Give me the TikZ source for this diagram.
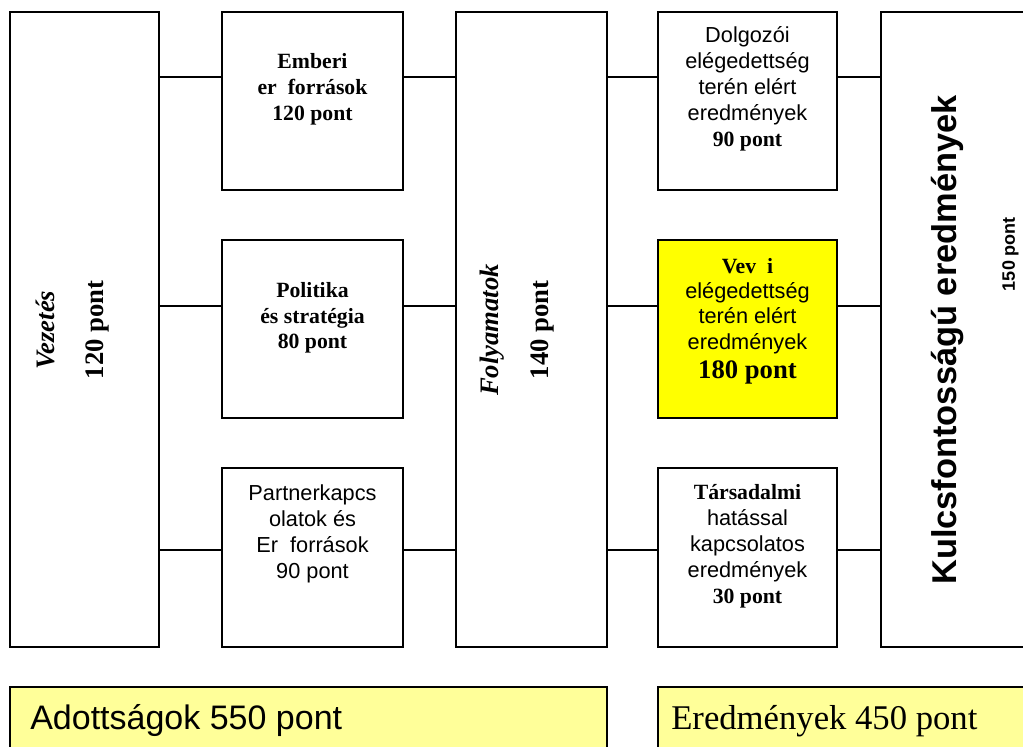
\documentclass[tikz,border=0pt]{standalone}
\usepackage{fontspec}
\setmainfont{Liberation Serif}
\setsansfont{Liberation Sans}
\usetikzlibrary{fit}
\definecolor{vevyellow}{HTML}{FFFF00}
\definecolor{sumyellow}{HTML}{FFFF99}
\begin{document}
\begin{tikzpicture}[x=0.75pt,y=-0.75pt,
  box/.style={draw=black, line width=1.3pt, inner sep=0pt},
  sumbox/.style={draw=black, line width=1.1pt, fill=sumyellow, inner sep=0pt},
  conn/.style={draw=black, line width=1.1pt},
  txt/.style={align=center, inner sep=0pt, font=\fontsize{16.3}{19.5}\selectfont},
  rot/.style={rotate=90, inner sep=0pt, font=\rmfamily\bfseries\fontsize{20}{24}\selectfont}
]
\useasboundingbox (0,0) rectangle (1023,746);
\fill[white] (0,0) rectangle (1023,746);

% boxes
\node[box, fit={(10,12) (159,647)}] (vez) {};
\node[box, fit={(222,12) (403,190)}] (emb) {};
\node[box, fit={(222,240) (403,418)}] (pol) {};
\node[box, fit={(222,468) (403,647)}] (par) {};
\node[box, fit={(456,12) (607,647)}] (fol) {};
\node[box, fit={(658,12) (837,190)}] (dol) {};
\node[box, fill=vevyellow, fit={(658,240) (837,418)}] (vev) {};
\node[box, fit={(658,468) (837,647)}] (tar) {};
\node[box, fit={(881,12) (1045,647)}] (kul) {};
\node[sumbox, fit={(10,687) (607,770)}] (ado) {};
\node[sumbox, fit={(658,687) (1045,770)}] (ere) {};

% connector rows
\coordinate (r1) at (0,77);
\coordinate (r2) at (0,306);
\coordinate (r3) at (0,550);
\draw[conn] (vez.east |- r1) -- (emb.west |- r1);
\draw[conn] (emb.east |- r1) -- (fol.west |- r1);
\draw[conn] (fol.east |- r1) -- (dol.west |- r1);
\draw[conn] (dol.east |- r1) -- (kul.west |- r1);
\draw[conn] (vez.east |- r2) -- (pol.west |- r2);
\draw[conn] (pol.east |- r2) -- (fol.west |- r2);
\draw[conn] (fol.east |- r2) -- (vev.west |- r2);
\draw[conn] (vev.east |- r2) -- (kul.west |- r2);
\draw[conn] (vez.east |- r3) -- (par.west |- r3);
\draw[conn] (par.east |- r3) -- (fol.west |- r3);
\draw[conn] (fol.east |- r3) -- (tar.west |- r3);
\draw[conn] (tar.east |- r3) -- (kul.west |- r3);

% texts in boxes
\node[txt, font=\rmfamily\bfseries\fontsize{16.3}{19.5}\selectfont] (t-emb) at (312.5,89) {Emberi\\er\ \ források\\120 pont};
\node[txt, font=\rmfamily\bfseries\fontsize{16.3}{19}\selectfont] (t-pol) at (312.5,318) {Politika\\és stratégia\\80 pont};
\node[txt, font=\sffamily\fontsize{16.3}{19.5}\selectfont] (t-par) at (312.5,533.5) {Partnerkapcs\\olatok és\\Er\ \ források\\90 pont};
\node[txt, font=\sffamily\fontsize{16.3}{19.5}\selectfont] (t-dol) at (747.5,88.5) {Dolgozói\\elégedettség\\terén elért\\eredmények\\{\rmfamily\bfseries 90 pont}};
\node[txt, font=\sffamily\fontsize{16.3}{19}\selectfont] (t-vev) at (747.5,321) {{\rmfamily\bfseries Vev\ \ i}\\elégedettség\\terén elért\\eredmények\\[3pt]{\rmfamily\bfseries\fontsize{20}{24}\selectfont 180 pont}};
\node[txt, font=\sffamily\fontsize{16.3}{19.5}\selectfont] (t-tar) at (747.5,546) {{\rmfamily\bfseries Társadalmi}\\hatással\\kapcsolatos\\eredmények\\{\rmfamily\bfseries 30 pont}};

% rotated texts
\node[rot, font=\rmfamily\bfseries\itshape\fontsize{20}{24}\selectfont] (t-vez1) at (45,330) {Vezetés};
\node[rot] (t-vez2) at (97,330) {120 pont};
\node[rot, font=\rmfamily\bfseries\itshape\fontsize{20}{24}\selectfont] (t-fol1) at (492,330) {Folyamatok};
\node[rot] (t-fol2) at (542,330) {140 pont};
\node[rot, font=\sffamily\bfseries\fontsize{25.8}{30}\selectfont] (t-kul1) at (948,340) {Kulcsfontosságú eredmények};
\node[rot, anchor=north, font=\sffamily\bfseries\fontsize{13.5}{16}\selectfont] (t-kul2) at (1002,254) {150 pont};

% bottom texts
\node[anchor=base west, inner sep=0pt, font=\sffamily\fontsize{25.5}{30}\selectfont] (t-ado) at (30,729) {Adottságok 550 pont};
\node[anchor=base west, inner sep=0pt, font=\rmfamily\fontsize{26}{30}\selectfont] (t-ere) at (671,729) {Eredmények 450 pont};
\end{tikzpicture}
\end{document}
